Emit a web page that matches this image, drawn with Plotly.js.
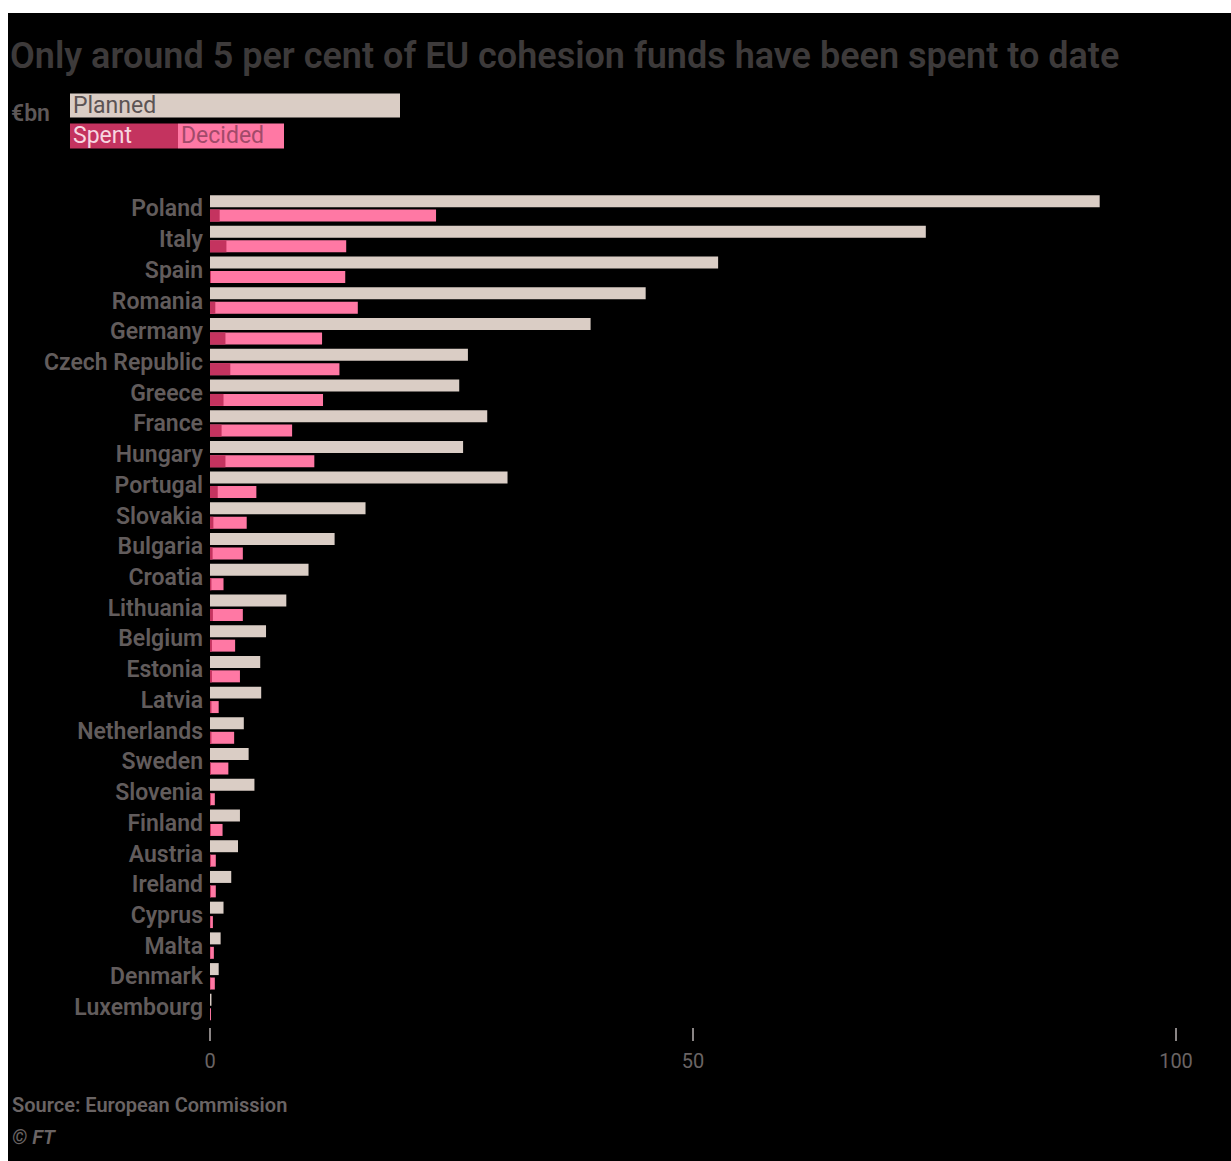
<!DOCTYPE html>
<html>
<head>
<meta charset="utf-8">
<script src="https://cdn.plot.ly/plotly-3.0.1.min.js"></script>
<style>
  html, body { margin: 0; padding: 0; background: #ffffff; }
  #chart { position: absolute; left: 8px; top: 13px; width: 1223px; height: 1148px; }
</style>
</head>
<body>
<div id="chart"></div>
<script>
const countries = ["Poland","Italy","Spain","Romania","Germany","Czech Republic","Greece","France","Hungary","Portugal","Slovakia","Bulgaria","Croatia","Lithuania","Belgium","Estonia","Latvia","Netherlands","Sweden","Slovenia","Finland","Austria","Ireland","Cyprus","Malta","Denmark","Luxembourg"];
const planned = [92.1,74.1,52.6,45.1,39.4,26.7,25.8,28.7,26.2,30.8,16.1,12.9,10.2,7.9,5.8,5.2,5.3,3.5,4.0,4.6,3.1,2.9,2.2,1.4,1.1,0.9,0.15];
const decided = [23.4,14.1,14.0,15.3,11.6,13.4,11.7,8.5,10.8,4.8,3.8,3.4,1.4,3.4,2.6,3.1,0.9,2.5,1.9,0.5,1.3,0.6,0.6,0.3,0.4,0.5,0.1];
const spent = [1.0,1.7,0.1,0.55,1.6,2.1,1.4,1.2,1.6,0.8,0.35,0.27,0.15,0.3,0.2,0.2,0.15,0.15,0.1,0.1,0.1,0.1,0.1,0.05,0.05,0.05,0.0];
const xTicks = [0, 50, 100];

const W = 1223, H = 1148;
const ml = 202, mr = 31, mt = 179.6, mb = 134;
const pw = W - ml - mr, ph = H - mt - mb;
const px = v => (v - ml) / pw;
const py = v => 1 - (v - mt) / ph;

const FONT = "Roboto, 'Noto Sans', sans-serif";
const cPlanned = "#dacdc5", cDecided = "#ff78a4", cSpent = "#c4335f";
const labelCol = "#625c5c";

const traces = [
  { type: "bar", orientation: "h", y: countries, x: planned, name: "Planned",
    marker: { color: cPlanned }, offset: -0.43, width: 0.39, hoverinfo: "x+y" },
  { type: "bar", orientation: "h", y: countries, x: decided, name: "Decided",
    marker: { color: cDecided }, offset: 0.04, width: 0.39, hoverinfo: "x+y" },
  { type: "bar", orientation: "h", y: countries, x: spent, name: "Spent",
    marker: { color: cSpent }, offset: 0.04, width: 0.39, hoverinfo: "x+y" }
];

const shapes = [
  { type: "rect", xref: "paper", yref: "paper", x0: px(62), x1: px(392), y0: py(104), y1: py(80),
    fillcolor: cPlanned, line: { width: 0 } },
  { type: "rect", xref: "paper", yref: "paper", x0: px(62), x1: px(170), y0: py(135), y1: py(110),
    fillcolor: cSpent, line: { width: 0 } },
  { type: "rect", xref: "paper", yref: "paper", x0: px(170), x1: px(276), y0: py(135), y1: py(110),
    fillcolor: cDecided, line: { width: 0 } }
];

const ann = (text, x, y, opts) => Object.assign({
  text: text, xref: "paper", yref: "paper", x: px(x), y: py(y),
  xanchor: "left", yanchor: "middle", showarrow: false,
  font: { family: FONT, size: 22, color: labelCol }
}, opts || {});

const annotations = [
  ann("€bn", 1, 100, { font: { family: FONT, size: 23, color: "#5e5858", weight: 600 } }),
  ann("Planned", 63, 92, { font: { family: FONT, size: 23, color: "#5c5454" } }),
  ann("Spent", 63, 122, { font: { family: FONT, size: 23, color: "#f7d6e1" } }),
  ann("Decided", 171, 122, { font: { family: FONT, size: 23, color: "#a24a6a" } }),
  ann("Source: European Commission", 2, 1092, { font: { family: FONT, size: 20, color: "#6a6464", weight: 600 } }),
  ann("<i>© FT</i>", 2, 1124, { font: { family: FONT, size: 20, color: "#6a6464", weight: 600 } })
];

const layout = {
  width: W, height: H,
  paper_bgcolor: "#000000", plot_bgcolor: "#000000",
  margin: { l: ml, r: mr, t: mt, b: mb, pad: 0 },
  barmode: "overlay",
  showlegend: false,
  title: { text: "Only around 5 per cent of EU cohesion funds have been spent to date",
    x: 2 / W, xref: "container", xanchor: "left", y: 1 - 42 / H, yref: "container", yanchor: "middle",
    font: { family: FONT, size: 36, color: "#3d3a3a", weight: 600 } },
  xaxis: {
    range: [0, pw / 9.66], tickvals: xTicks, ticktext: xTicks.map(String),
    showgrid: false, zeroline: false, showline: false,
    ticks: "outside", ticklen: 13, tickwidth: 2, tickcolor: "#8a8585",
    ticklabelstandoff: 3,
    tickfont: { family: FONT, size: 20, color: "#6a6464" }
  },
  yaxis: {
    type: "category", categoryorder: "array", categoryarray: countries,
    range: [26.65, -0.5], showgrid: false, zeroline: false, showline: false,
    ticks: "", ticklabelstandoff: 6,
    tickfont: { family: FONT, size: 23, color: labelCol, weight: 600 }
  },
  shapes: shapes, annotations: annotations
};

Plotly.newPlot("chart", traces, layout, { staticPlot: true, displayModeBar: false });
</script>
</body>
</html>
